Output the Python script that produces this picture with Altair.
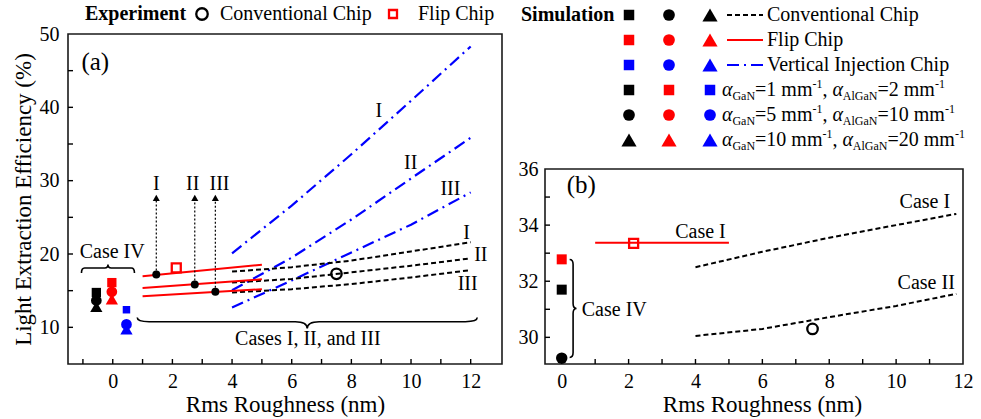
import altair as alt
import pandas as pd

FONT = "Liberation Serif"
BLACK, RED, BLUE = "#000000", "#ff0000", "#0000ff"

# ---------------- panel (a): light extraction efficiency vs rms roughness ----------------
conv_x = [4, 6, 8, 10, 12]
conv_I = [17.6, 18.2, 19.1, 20.35, 21.6]
conv_II = [16.1, 16.6, 17.5, 18.4, 19.4]
conv_III = [14.75, 15.2, 15.9, 16.8, 17.8]

flip_x = [1, 5]
flip_I = [16.95, 18.55]
flip_II = [15.35, 16.55]
flip_III = [14.25, 15.2]

vert_x = [4, 6, 8, 10, 12]
vert_I = [20.1, 26.6, 33.6, 40.9, 48.3]
vert_II = [15.05, 19.5, 24.7, 30.3, 35.85]
vert_III = [12.7, 16.4, 20.2, 24.0, 28.4]

# roughness of cases I-III marked on the flip-chip curves
case_names = ["I", "II", "III"]
case_rms = [1.46, 2.75, 3.44]
case_lee = [17.2, 15.85, 14.85]
case_label_rms = [1.46, 2.68, 3.58]
arrow_head_lee = 27.65
case_label_lee = 29.55

# case IV (flat surface): low / mid / high absorption
absorption = ["low", "mid", "high"]
iv_conv = [14.75, 13.65, 12.8]
iv_flip = [16.1, 14.85, 13.85]
iv_vert = [12.4, 10.4, 9.75]
iv_rms = {"conventional": -0.55, "flip": -0.03, "vertical": 0.46}

# experiment
exp_chip = ["conventional", "flip"]
exp_rms = [7.5, 2.13]
exp_lee = [17.3, 18.1]

# labels next to the simulated curves
curve_lbl_x = [8.92, 9.99, 11.32, 11.86, 12.34, 11.9]
curve_lbl_y = [39.46, 32.47, 28.85, 22.9, 19.8, 15.97]
curve_lbl_t = ["I", "II", "III", "I", "II", "III"]

# ---------------- panel (b) ----------------
b_conv_x = [4, 6, 8, 10, 11.8]
b_conv_I = [32.5, 33.05, 33.55, 34.0, 34.4]
b_conv_II = [30.05, 30.3, 30.72, 31.12, 31.55]
b_flip_x = [1, 5]
b_flip_I = [33.37, 33.37]
b_iv_chip = ["flip", "conventional", "conventional"]
b_iv_absorption = ["low", "low", "mid"]
b_iv_lee = [32.78, 31.7, 29.26]
b_exp_rms = [7.5, 2.15]
b_exp_lee = [30.3, 33.35]

# axis ticks
a_x_ticks = [0, 2, 4, 6, 8, 10, 12]
a_y_ticks = [10, 20, 30, 40, 50]
a_x_minor = list(range(-1, 13))
a_y_minor = list(range(10, 50, 5))
b_x_ticks = [0, 2, 4, 6, 8, 10, 12]
b_y_ticks = [30, 32, 34, 36]
b_x_minor = list(range(0, 12))
b_y_minor = list(range(30, 36))

SHAPE = {"low": "square", "mid": "circle", "high": "triangle-up"}
CHIP_COLOR = {"conventional": BLACK, "flip": RED, "vertical": BLUE}

# ---------------- layout (pixels from the plot origin) ----------------
A_W, A_H = 434, 330
B_X0, B_X1, B_TOP = 477, 895, 135
TOTAL_W = 895

sx_a = alt.Scale(domain=[-1.5, 13.05], range=[0, A_W], nice=False, zero=False)
sy_a = alt.Scale(domain=[5, 50], range=[A_H, 0], nice=False, zero=False)
sx_b = alt.Scale(domain=[-0.5, 12], range=[B_X0, B_X1], nice=False, zero=False)
sy_b = alt.Scale(domain=[29.05, 36], range=[A_H, B_TOP], nice=False, zero=False)

axis_style = dict(grid=False, domain=False, ticks=False, tickSize=0, labelFont=FONT,
                  labelFontSize=20, labelColor=BLACK, titleFont=FONT, titleFontSize=23,
                  titleFontWeight="normal", titleColor=BLACK, labelFlush=False,
                  labelOverlap=False)
ax_a_x = alt.Axis(orient="bottom", values=a_x_ticks, title="Rms Roughness (nm)",
                  labelPadding=7, titlePadding=2, **axis_style)
ax_a_y = alt.Axis(orient="left", values=a_y_ticks, title="Light Extraction Efficiency (%)",
                  labelPadding=9, titlePadding=4, **axis_style)
ax_b_x = alt.Axis(orient="bottom", values=b_x_ticks, title="Rms Roughness (nm)",
                  titleX=694, labelPadding=7, titlePadding=2, **axis_style)
ax_b_y = alt.Axis(orient="left", values=b_y_ticks, title=None, offset=-B_X0,
                  labelPadding=7, **axis_style)

one_row = pd.DataFrame({"k": [0]})


def xq(field, sc, ax):
    return alt.X(f"{field}:Q", scale=sc, axis=ax)


def yq(field, sc, ax):
    return alt.Y(f"{field}:Q", scale=sc, axis=ax)


def curves(xs, series):
    rows = []
    for name, ys in series.items():
        for x, y in zip(xs, ys):
            rows.append({"case": name, "x": x, "y": y})
    return pd.DataFrame(rows)


def hbrace(end, tip, sh):
    return (f"M -1 {end} Q -1 0 {-1 + sh} 0 L {-sh} 0 Q 0 0 0 {tip} "
            f"Q 0 0 {sh} 0 L {1 - sh} 0 Q 1 0 1 {end}")


def vbrace(end, tip, sh):
    return (f"M {end} -1 Q 0 -1 0 {-1 + sh} L 0 {-sh} Q 0 0 {tip} 0 "
            f"Q 0 0 0 {sh} L 0 {1 - sh} Q 0 1 {end} 1")


def text_layer(df, sx, sy, ax, ay, size=20, **kw):
    return alt.Chart(df).mark_text(font=FONT, fontSize=size, color=BLACK,
                                   baseline="middle", **kw).encode(
        x=xq("x", sx, ax), y=yq("y", sy, ay), text="t:N")


def frame_and_ticks(sx, sy, ax, ay, x0, x1, y0, y1, xminor, yminor):
    frame = alt.Chart(one_row).mark_rect(fillOpacity=0, stroke="#1a1a1a", strokeWidth=1.6).encode(
        x=alt.value(x0), x2=alt.value(x1), y=alt.value(y0), y2=alt.value(y1))
    tx = alt.Chart(pd.DataFrame({"x": xminor})).mark_rule(color=BLACK, strokeWidth=1.4).encode(
        x=xq("x", sx, ax), y=alt.value(y1), y2=alt.value(y1 - 5))
    ty = alt.Chart(pd.DataFrame({"y": yminor})).mark_rule(color=BLACK, strokeWidth=1.4).encode(
        y=yq("y", sy, ay), x=alt.value(x0), x2=alt.value(x0 + 5))
    return [frame, tx, ty]


# ---------------- panel (a) layers ----------------
A = dict(sx=sx_a, sy=sy_a, ax=ax_a_x, ay=ax_a_y)

conv_a = alt.Chart(curves(conv_x, {"I": conv_I, "II": conv_II, "III": conv_III})).mark_line(
    color=BLACK, strokeDash=[5, 3], strokeWidth=2).encode(
    x=xq("x", sx_a, ax_a_x), y=yq("y", sy_a, ax_a_y), detail="case:N")
flip_a = alt.Chart(curves(flip_x, {"I": flip_I, "II": flip_II, "III": flip_III})).mark_line(
    color=RED, strokeWidth=2).encode(
    x=xq("x", sx_a, ax_a_x), y=yq("y", sy_a, ax_a_y), detail="case:N")
vert_a = alt.Chart(curves(vert_x, {"I": vert_I, "II": vert_II, "III": vert_III})).mark_line(
    color=BLUE, strokeDash=[12, 5, 2, 5], strokeWidth=2.2).encode(
    x=xq("x", sx_a, ax_a_x), y=yq("y", sy_a, ax_a_y), detail="case:N")

case_df = pd.DataFrame({"x": case_rms, "y": case_lee, "top": [arrow_head_lee - 0.3] * 3,
                        "head": [arrow_head_lee] * 3})
arrows = alt.Chart(case_df).mark_rule(color=BLACK, strokeDash=[2, 2], strokeWidth=1.2).encode(
    x=xq("x", sx_a, ax_a_x), y=yq("y", sy_a, ax_a_y), y2="top:Q")
heads = alt.Chart(case_df).mark_point(shape="triangle-up", filled=True, color=BLACK,
                                      size=50, opacity=1).encode(
    x=xq("x", sx_a, ax_a_x), y=yq("head", sy_a, ax_a_y))
dots = alt.Chart(case_df).mark_point(shape="circle", filled=True, color=BLACK,
                                     size=64, opacity=1).encode(
    x=xq("x", sx_a, ax_a_x), y=yq("y", sy_a, ax_a_y))
case_lbl = text_layer(pd.DataFrame({"x": case_label_rms, "y": [case_label_lee] * 3,
                                    "t": case_names}), **A)

SIZE_A = {"square": 86, "circle": 115, "triangle-up": 150}
iv_rows = []
for chip, vals in (("conventional", iv_conv), ("flip", iv_flip), ("vertical", iv_vert)):
    for lvl, v in zip(absorption, vals):
        shp = SHAPE[lvl]
        iv_rows.append({"x": iv_rms[chip], "y": v, "shape": shp, "color": CHIP_COLOR[chip],
                        "size": SIZE_A[shp] * (0.65 if chip == "vertical" and shp == "square" else 1)})
iv_a = alt.Chart(pd.DataFrame(iv_rows)).mark_point(filled=True, opacity=1).encode(
    x=xq("x", sx_a, ax_a_x), y=yq("y", sy_a, ax_a_y),
    shape=alt.Shape("shape:N", scale=None, legend=None),
    color=alt.Color("color:N", scale=None, legend=None),
    size=alt.Size("size:Q", scale=None, legend=None))

EXP_SHAPE = {"conventional": "circle", "flip": "square"}
EXP_SIZE = {"conventional": 110, "flip": 81}
exp_a = alt.Chart(pd.DataFrame({
    "x": exp_rms, "y": exp_lee,
    "shape": [EXP_SHAPE[c] for c in exp_chip],
    "color": [CHIP_COLOR[c] for c in exp_chip],
    "size": [EXP_SIZE[c] for c in exp_chip]})).mark_point(
    filled=False, strokeWidth=2.3, opacity=1).encode(
    x=xq("x", sx_a, ax_a_x), y=yq("y", sy_a, ax_a_y),
    shape=alt.Shape("shape:N", scale=None, legend=None),
    color=alt.Color("color:N", scale=None, legend=None),
    size=alt.Size("size:Q", scale=None, legend=None))

curve_lbl = text_layer(pd.DataFrame({"x": curve_lbl_x, "y": curve_lbl_y, "t": curve_lbl_t}), **A)
tag_a = text_layer(pd.DataFrame({"x": [-1.05], "y": [46.2], "t": ["(a)"]}), size=25,
                   align="left", **A)
case4_a = text_layer(pd.DataFrame({"x": [-0.02], "y": [20.3], "t": ["Case IV"]}), **A)
cases_a = text_layer(pd.DataFrame({"x": [6.54], "y": [8.4], "t": ["Cases I, II, and III"]}), **A)

brace_iv_a = alt.Chart(pd.DataFrame({"x": [-0.16], "y": [18.1]})).mark_point(
    shape=hbrace(0.19, -0.13, 0.12), size=53 ** 2, filled=False, color=BLACK,
    strokeWidth=1.6, opacity=1).encode(x=xq("x", sx_a, ax_a_x), y=yq("y", sy_a, ax_a_y))
brace_cases_a = alt.Chart(pd.DataFrame({"x": [6.52], "y": [10.77]})).mark_point(
    shape=hbrace(-0.024, 0.04, 0.07), size=340 ** 2, filled=False, color=BLACK,
    strokeWidth=1.6, opacity=1).encode(x=xq("x", sx_a, ax_a_x), y=yq("y", sy_a, ax_a_y))

panel_a = alt.layer(
    *frame_and_ticks(sx_a, sy_a, ax_a_x, ax_a_y, 0, A_W, 0, A_H, a_x_minor, a_y_minor),
    vert_a, conv_a, flip_a, arrows, heads, dots, case_lbl, iv_a, exp_a, curve_lbl,
    tag_a, case4_a, cases_a, brace_iv_a, brace_cases_a)

# ---------------- panel (b) layers ----------------
B = dict(sx=sx_b, sy=sy_b, ax=ax_b_x, ay=ax_b_y)
conv_b = alt.Chart(curves(b_conv_x, {"I": b_conv_I, "II": b_conv_II})).mark_line(
    color=BLACK, strokeDash=[5, 3], strokeWidth=2).encode(
    x=xq("x", sx_b, ax_b_x), y=yq("y", sy_b, ax_b_y), detail="case:N")
flip_b = alt.Chart(curves(b_flip_x, {"I": b_flip_I})).mark_line(color=RED, strokeWidth=2).encode(
    x=xq("x", sx_b, ax_b_x), y=yq("y", sy_b, ax_b_y), detail="case:N")
SIZE_B = {"square": 100, "circle": 130}
iv_b = alt.Chart(pd.DataFrame({
    "x": [0] * 3, "y": b_iv_lee,
    "shape": [SHAPE[a] for a in b_iv_absorption],
    "color": [CHIP_COLOR[c] for c in b_iv_chip],
    "size": [SIZE_B[SHAPE[a]] for a in b_iv_absorption]})).mark_point(filled=True, opacity=1).encode(
    x=xq("x", sx_b, ax_b_x), y=yq("y", sy_b, ax_b_y),
    shape=alt.Shape("shape:N", scale=None, legend=None),
    color=alt.Color("color:N", scale=None, legend=None),
    size=alt.Size("size:Q", scale=None, legend=None))
exp_b = alt.Chart(pd.DataFrame({
    "x": b_exp_rms, "y": b_exp_lee,
    "shape": [EXP_SHAPE[c] for c in exp_chip],
    "color": [CHIP_COLOR[c] for c in exp_chip],
    "size": [EXP_SIZE[c] for c in exp_chip]})).mark_point(
    filled=False, strokeWidth=2.3, opacity=1).encode(
    x=xq("x", sx_b, ax_b_x), y=yq("y", sy_b, ax_b_y),
    shape=alt.Shape("shape:N", scale=None, legend=None),
    color=alt.Color("color:N", scale=None, legend=None),
    size=alt.Size("size:Q", scale=None, legend=None))
lbl_b = text_layer(pd.DataFrame({"x": [4.15, 10.86, 10.9], "y": [33.75, 34.81, 31.95],
                                 "t": ["Case I", "Case I", "Case II"]}), **B)
tag_b = text_layer(pd.DataFrame({"x": [0.15], "y": [35.43], "t": ["(b)"]}), size=25,
                   align="left", **B)
case4_b = text_layer(pd.DataFrame({"x": [0.6], "y": [30.97], "t": ["Case IV"]}),
                     align="left", **B)
brace_b = alt.Chart(pd.DataFrame({"x": [0.34], "y": [31.03]})).mark_point(
    shape=vbrace(-0.07, 0.07, 0.1), size=98 ** 2, filled=False, color=BLACK,
    strokeWidth=1.6, opacity=1).encode(x=xq("x", sx_b, ax_b_x), y=yq("y", sy_b, ax_b_y))

panel_b = alt.layer(
    *frame_and_ticks(sx_b, sy_b, ax_b_x, ax_b_y, B_X0, B_X1, B_TOP, A_H, b_x_minor, b_y_minor),
    conv_b, flip_b, iv_b, exp_b, lbl_b, tag_b, case4_b, brace_b)

# ---------------- legend (pixel layout above panel b) ----------------
TNR = {" ": 250, ",": 250, "-": 333, "=": 564, "A": 722, "G": 722, "N": 722,
       "a": 444, "l": 278, "m": 778, "α": 520}


def tw(s, size):
    return sum(TNR.get(c, 500) for c in s) * size / 1000


row_base = [-13 + 25 * i for i in range(6)]
sym_cols = [561, 601, 642]
LEG_SIZE = {"square": 110, "circle": 137, "triangle-up": 230}
chips = ["conventional", "flip", "vertical"]
chip_names = ["Conventional Chip", "Flip Chip", "Vertical Injection Chip"]
alpha_gan = [1, 5, 10]
alpha_algan = [2, 10, 20]

sym_rows = []
for r, chip in enumerate(chips):
    for c, lvl in enumerate(absorption):
        shp = SHAPE[lvl]
        sym_rows.append({"px": sym_cols[c], "py": row_base[r] - 6, "shape": shp,
                         "color": CHIP_COLOR[chip], "size": LEG_SIZE[shp]})
for r, lvl in enumerate(absorption):
    shp = SHAPE[lvl]
    for c, chip in enumerate(chips):
        sym_rows.append({"px": sym_cols[c], "py": row_base[3 + r] - 6, "shape": shp,
                         "color": CHIP_COLOR[chip], "size": LEG_SIZE[shp]})
sym_rows_open = [
    {"px": 134, "py": -20, "shape": "circle", "color": BLACK, "size": 132},
    {"px": 325, "py": -20, "shape": "square", "color": RED, "size": 64},
]

plain, italic, bold = [], [], []
bold.append({"px": 17, "py": -14, "t": "Experiment", "s": 20})
bold.append({"px": 453, "py": row_base[0], "t": "Simulation", "s": 20})
plain.append({"px": 152, "py": -14, "t": "Conventional Chip", "s": 20})
plain.append({"px": 350, "py": -14, "t": "Flip Chip", "s": 20})
for r, name in enumerate(chip_names):
    plain.append({"px": 699, "py": row_base[r], "t": name, "s": 20})
for r in range(3):
    pieces = [("α", 20, 0, True), ("GaN", 12, 4, False), (f"={alpha_gan[r]} mm", 20, 0, False),
              ("-1", 12, -8, False), (", ", 20, 0, False), ("α", 20, 0, True),
              ("AlGaN", 12, 4, False), (f"={alpha_algan[r]} mm", 20, 0, False),
              ("-1", 12, -8, False)]
    x = 654
    for txt, size, dy, ital in pieces:
        row = {"px": x, "py": row_base[3 + r] + dy, "t": txt, "s": size}
        (italic if ital else plain).append(row)
        x += tw(txt, size)


def leg_points(rows, filled, sw):
    kw = {"strokeWidth": sw} if not filled else {}
    return alt.Chart(pd.DataFrame(rows)).mark_point(filled=filled, opacity=1, **kw).encode(
        x=alt.X("px:Q", scale=None, axis=None), y=alt.Y("py:Q", scale=None, axis=None),
        shape=alt.Shape("shape:N", scale=None, legend=None),
        color=alt.Color("color:N", scale=None, legend=None),
        size=alt.Size("size:Q", scale=None, legend=None))


def leg_text(rows, **kw):
    return alt.Chart(pd.DataFrame(rows)).mark_text(
        font=FONT, align="left", baseline="alphabetic", color=BLACK, **kw).encode(
        x=alt.X("px:Q", scale=None, axis=None), y=alt.Y("py:Q", scale=None, axis=None),
        text="t:N", size=alt.Size("s:Q", scale=None, legend=None))


def leg_line(y, color, width, dash=None):
    kw = {"strokeDash": dash} if dash else {}
    return alt.Chart(pd.DataFrame({"px": [659], "px2": [695], "py": [y]})).mark_rule(
        color=color, strokeWidth=width, **kw).encode(
        x=alt.X("px:Q", scale=None, axis=None), x2="px2:Q",
        y=alt.Y("py:Q", scale=None, axis=None))


legend = alt.layer(
    leg_points(sym_rows, True, 0), leg_points(sym_rows_open, False, 2.3),
    leg_text(plain), leg_text(italic, fontStyle="italic"), leg_text(bold, fontWeight="bold"),
    leg_line(row_base[0] - 6, BLACK, 2, [5, 3]), leg_line(row_base[1] - 6, RED, 2),
    leg_line(row_base[2] - 6, BLUE, 2.2, [12, 5, 2, 5]))

chart = alt.layer(panel_a, panel_b, legend).resolve_scale(
    x="independent", y="independent").properties(
    width=TOTAL_W, height=A_H,
    autosize=alt.AutoSizeParams(type="none"),
    padding={"left": 68, "top": 34, "right": 18, "bottom": 55},
    background="white",
).configure(font=FONT).configure_view(strokeWidth=0)

chart.save("out.html", embed_options={"renderer": "svg", "actions": False})
